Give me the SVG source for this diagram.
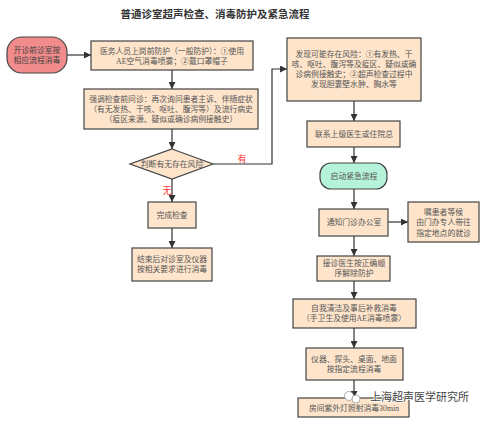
<svg xmlns="http://www.w3.org/2000/svg" width="490" height="423" viewBox="0 0 490 423">
<defs>
<marker id="ah" viewBox="0 0 10 10" refX="10" refY="5" markerWidth="7" markerHeight="7" markerUnits="userSpaceOnUse" orient="auto">
<path d="M0,0 L10,5 L0,10 z" fill="#333"/>
</marker>
<style>
.box{fill:#fde4cb;stroke:#444;stroke-width:1.2}
.t{font-family:"Liberation Serif","Noto Sans CJK SC",serif;font-size:7.8px;fill:#555;text-anchor:middle;dominant-baseline:central}
.c{fill:none;stroke:#333;stroke-width:1.2;marker-end:url(#ah)}
.lab{font-family:"Noto Sans CJK SC",sans-serif;font-size:9px;fill:#f33;text-anchor:middle;dominant-baseline:central}
</style>
</defs>
<rect width="490" height="423" fill="#fff"/>
<text x="215" y="13" font-family="Noto Sans CJK SC, sans-serif" font-size="10.5" font-weight="bold" fill="#333" text-anchor="middle" dominant-baseline="central">普通诊室超声检查、消毒防护及紧急流程</text>

<g id="connectors">
<path class="c" d="M67,55 H91"/>
<path class="c" d="M172,70 V89"/>
<path class="c" d="M172,129 V149"/>
<path class="c" d="M172,179 V202"/>
<path class="c" d="M172,228 V248"/>
<path class="c" d="M213,164 H272 V69 H287"/>
<path class="c" d="M354,101 V121"/>
<path class="c" d="M354,147 V163"/>
<path class="c" d="M354,189 V209"/>
<path class="c" d="M388,222 H408"/>
<path class="c" d="M354,236 V256"/>
<path class="c" d="M354,281 V299"/>
<path class="c" d="M354,328 V348"/>
<path class="c" d="M354,380 V398"/>
<text class="lab" x="242" y="158">有</text>
<text class="lab" x="167" y="190">无</text>
</g>

<g id="start">
<rect x="7" y="37" width="60" height="36" rx="15" fill="#f28b8b" stroke="#444" stroke-width="1.2"/>
<text class="t" x="37" y="50" style="fill:#444">开诊前诊室按</text>
<text class="t" x="37" y="60" style="fill:#444">相应流程消毒</text>
</g>
<g id="protect">
<rect class="box" x="91" y="41" width="162" height="29"/>
<text class="t" x="172" y="51">医务人员上岗前防护（一般防护）：①使用</text>
<text class="t" x="172" y="61">AE空气消毒喷雾；②戴口罩帽子</text>
</g>
<g id="inquiry">
<rect class="box" x="84" y="89" width="174" height="40"/>
<text class="t" x="171" y="99">强调检查前问诊：再次询问患者主诉、伴随症状</text>
<text class="t" x="171" y="109">（有无发热、干咳、呕吐、腹泻等）及流行病史</text>
<text class="t" x="171" y="119">（疫区来源、疑似或确诊病例接触史）</text>
</g>
<g id="judge">
<path d="M172,149 L213,164 L172,179 L130,164 Z" fill="#fde4cb" stroke="#444" stroke-width="1.2"/>
<text class="t" x="172" y="164">判断有无存在风险</text>
</g>
<g id="done">
<rect class="box" x="148" y="202" width="48" height="26"/>
<text class="t" x="172" y="215">完成检查</text>
</g>
<g id="disinfect">
<rect class="box" x="132" y="248" width="80" height="33"/>
<text class="t" x="172" y="259">结束后对诊室及仪器</text>
<text class="t" x="172" y="269">按相关要求进行消毒</text>
</g>
<g id="risk">
<rect class="box" x="287" y="38" width="134" height="63"/>
<text class="t" x="354" y="54">发现可能存在风险：①有发热、干</text>
<text class="t" x="354" y="64">咳、呕吐、腹泻等及疫区、疑似或确</text>
<text class="t" x="354" y="74">诊病例接触史；②超声检查过程中</text>
<text class="t" x="354" y="84">发现胆囊壁水肿、胸水等</text>
</g>
<g id="contact">
<rect class="box" x="307" y="121" width="93" height="26"/>
<text class="t" x="354" y="134">联系上级医生或住院总</text>
</g>
<g id="emergency">
<rect x="320" y="163" width="67" height="26" rx="11" fill="#b5f2da" stroke="#444" stroke-width="1.2"/>
<text class="t" x="354" y="176">启动紧急流程</text>
</g>
<g id="notify">
<rect class="box" x="319" y="209" width="69" height="27"/>
<text class="t" x="354" y="222.5">通知门诊办公室</text>
</g>
<g id="wait">
<rect class="box" x="408" y="202" width="71" height="40"/>
<text class="t" x="443.5" y="212">嘱患者等候</text>
<text class="t" x="443.5" y="222">由门办专人带往</text>
<text class="t" x="443.5" y="233">指定地点的就诊</text>
</g>
<g id="remove">
<rect class="box" x="317" y="256" width="73" height="25"/>
<text class="t" x="354" y="263">接诊医生按正确顺</text>
<text class="t" x="354" y="273">序解除防护</text>
</g>
<g id="selfclean">
<rect class="box" x="293" y="299" width="123" height="29"/>
<text class="t" x="354" y="308">自我清洁及事后补救消毒</text>
<text class="t" x="354" y="318">（手卫生及使用AE消毒喷雾）</text>
</g>
<g id="instrument">
<rect class="box" x="306" y="348" width="97" height="32"/>
<text class="t" x="354" y="359">仪器、探头、桌面、地面</text>
<text class="t" x="354" y="369">按指定流程消毒</text>
</g>
<g id="uv">
<rect class="box" x="298" y="398" width="111" height="19"/>
<text class="t" x="354" y="408.5">房间紫外灯照射消毒30min</text>
</g>

<g id="watermark">
<circle cx="349" cy="396" r="4.5" fill="#fff" stroke="#999" stroke-width="0.8"/>
<circle cx="356" cy="399" r="4" fill="#fff" stroke="#999" stroke-width="0.8"/>
<text x="370" y="396" font-family="Noto Sans CJK SC, sans-serif" font-size="11" fill="#444" stroke="#fff" stroke-width="1.5" paint-order="stroke" dominant-baseline="central">上海超声医学研究所</text>
</g>
</svg>
